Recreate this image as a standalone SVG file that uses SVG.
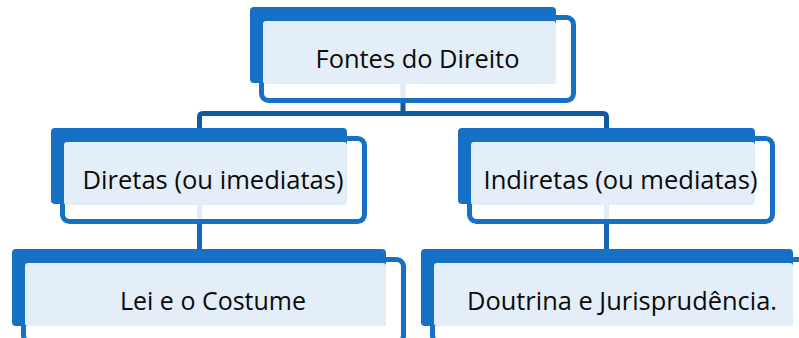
<svg xmlns="http://www.w3.org/2000/svg" width="799" height="338" viewBox="0 0 799 338">
<style>
.frame{fill:#ffffff;fill-opacity:0.88;stroke:#1670c4;stroke-width:5}
.back{fill:#1570c6}
.face{fill:#e4eef8}
.lbl{font-family:"Open Sans","Noto Sans",sans-serif;font-size:26px;fill:#0a0a0a;text-anchor:middle}
.c1{fill:none;stroke:#0c5ba3;stroke-width:5}
.c2{fill:none;stroke:#1566b6;stroke-width:5}
</style>
<rect width="799" height="338" fill="#ffffff"/>
<g id="connectors">
<path class="c1" d="M403 83 V113.5"/>
<path class="c1" d="M199.5 130 V117 Q199.5 113.5 203 113.5 H603 Q606.5 113.5 606.5 117 V130"/>
<path class="c2" d="M199.5 204 V250"/>
<path class="c2" d="M606.5 204 V250"/>
</g>
<g id="n-fontes" transform="translate(250,7)">
<rect class="frame" x="11.5" y="10.5" width="312" height="83" rx="7"/>
<rect class="back" x="0" y="0" width="306" height="76" rx="4"/>
<rect class="face" x="13" y="14" width="293" height="63" rx="3"/>
<text class="lbl" x="167.5" y="61" textLength="204" lengthAdjust="spacingAndGlyphs">Fontes do Direito</text>
</g>
<g id="n-diretas" transform="translate(51,128)">
<rect class="frame" x="11.5" y="10.5" width="302" height="83" rx="7"/>
<rect class="back" x="0" y="0" width="296" height="76" rx="4"/>
<rect class="face" x="13" y="14" width="283" height="63" rx="3"/>
<text class="lbl" x="162" y="61" textLength="261" lengthAdjust="spacingAndGlyphs">Diretas (ou imediatas)</text>
</g>
<g id="n-indiretas" transform="translate(458,128)">
<rect class="frame" x="11.5" y="10.5" width="303" height="83" rx="7"/>
<rect class="back" x="0" y="0" width="297" height="76" rx="4"/>
<rect class="face" x="13" y="14" width="284" height="63" rx="3"/>
<text class="lbl" x="162.5" y="61" textLength="274" lengthAdjust="spacingAndGlyphs">Indiretas (ou mediatas)</text>
</g>
<g id="n-lei" transform="translate(12,249)">
<rect class="frame" x="11.5" y="10.5" width="380" height="83" rx="7"/>
<rect class="back" x="0" y="0" width="374" height="77" rx="4"/>
<rect class="face" x="13" y="14" width="361" height="63" rx="3"/>
<text class="lbl" x="201" y="61" textLength="186" lengthAdjust="spacingAndGlyphs">Lei e o Costume</text>
</g>
<g id="n-doutrina" transform="translate(421,249)">
<rect class="frame" x="11.5" y="10.5" width="378" height="83" rx="7"/>
<rect class="back" x="0" y="0" width="372" height="77" rx="4"/>
<rect class="face" x="13" y="14" width="359" height="63" rx="3"/>
<text class="lbl" x="201" y="61" textLength="310" lengthAdjust="spacingAndGlyphs">Doutrina e Jurisprudência.</text>
</g>
</svg>
